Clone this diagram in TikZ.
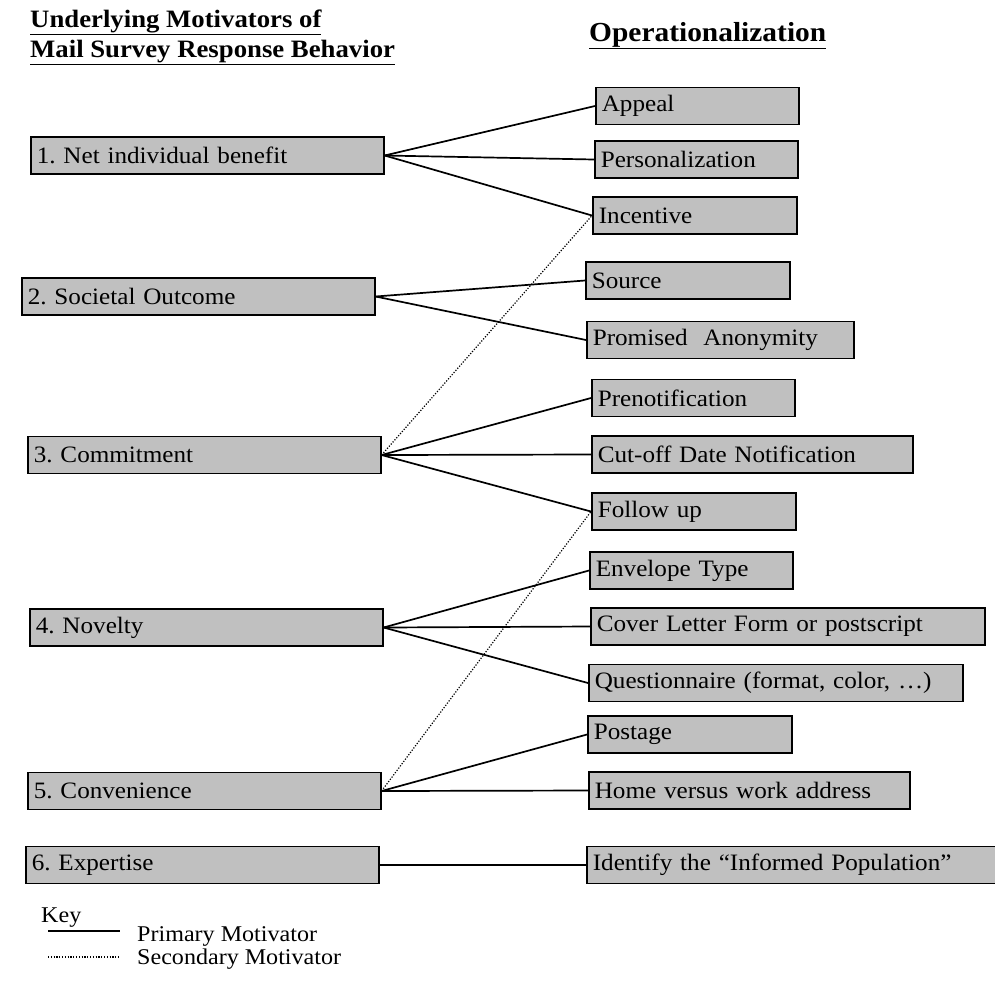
\documentclass[tikz,border=0pt]{standalone}
\usepackage{fontspec}
\setmainfont{Liberation Serif}[FakeStretch=1.07]
\usepackage{xcolor}
\usetikzlibrary{positioning}
\definecolor{boxgray}{HTML}{C0C0C0}
\frenchspacing

\begin{document}
\begin{tikzpicture}[
    x=1pt, y=-1pt,
    font=\fontsize{23.5}{26}\selectfont,
    motive/.style={
        draw,
        fill=boxgray,
        line width=1.6pt,
        minimum height=37pt,
        text width=341pt,
        inner xsep=6pt,
        inner ysep=0pt,
        align=left,
        anchor=west
    },
    oper/.style={
        draw,
        fill=boxgray,
        line width=1.6pt,
        minimum height=37pt,
        text width=#1,
        inner xsep=6pt,
        inner ysep=0pt,
        align=left,
        anchor=west
    },
    heading/.style={
        font=\fontsize{25}{30}\selectfont\bfseries,
        inner sep=0pt,
        anchor=base west
    },
    keytext/.style={
        font=\fontsize{22.5}{26}\selectfont,
        inner sep=0pt,
        anchor=base west
    },
    primary/.style={line width=1.7pt},
    secondary/.style={line width=1.2pt, dash pattern=on 1.2pt off 1.6pt}
]
\useasboundingbox (0,0) rectangle (995,986);
\clip (0,0) rectangle (995,986);

% Headings
\node[heading] (head1) at (30,27) {\underline{Underlying Motivators of}};
\node[heading] (head2) at (30,57) {\underline{Mail Survey Response Behavior}};
\node[heading, font=\fontsize{27.5}{30}\selectfont\bfseries] (head3) at (589,41) {\underline{Operationalization}};

% Underlying motivators
\node[motive] (m1) at (30,155.5) {1. Net individual benefit};
\node[motive] (m2) at (21,296.5) {2. Societal Outcome};
\node[motive] (m3) at (27,455) {3. Commitment};
\node[motive] (m4) at (29,627.5) {4. Novelty};
\node[motive] (m5) at (27,791) {5. Convenience};
\node[motive] (m6) at (25,865) {6. Expertise};

% Operationalization
\node[oper=191pt] (appeal) at (595,106) {Appeal};
\node[oper=191pt] (person) at (594,159.5) {Personalization};
\node[oper=192pt] (incent) at (592,215.5) {Incentive};
\node[oper=192pt] (source) at (585,280.5) {Source};
\node[oper=255pt] (anon) at (586,340) {Promised\ \ Anonymity};
\node[oper=191pt] (prenot) at (591,398) {Prenotification};
\node[oper=309pt] (cutoff) at (591,454.5) {Cut-off Date Notification};
\node[oper=192pt] (follow) at (591,511.5) {Follow up};
\node[oper=191pt] (envel) at (589,570.5) {Envelope Type};
\node[oper=382pt] (cover) at (590,626.5) {Cover Letter Form or postscript};
\node[oper=362pt] (quest) at (588,683) {Questionnaire (format, color, \dots)};
\node[oper=192pt] (postage) at (587,734.5) {Postage};
\node[oper=309pt] (home) at (588,790.5) {Home versus work address};
\node[oper=410pt] (inform) at (586,865) {Identify the ``Informed Population''};

% Primary motivators
\draw[primary] (m1.east) -- (appeal.west);
\draw[primary] (m1.east) -- (person.west);
\draw[primary] (m1.east) -- (incent.west);
\draw[primary] (m2.east) -- (source.west);
\draw[primary] (m2.east) -- (anon.west);
\draw[primary] (m3.east) -- (prenot.west);
\draw[primary] (m3.east) -- (cutoff.west);
\draw[primary] (m3.east) -- (follow.west);
\draw[primary] (m4.east) -- (envel.west);
\draw[primary] (m4.east) -- (cover.west);
\draw[primary] (m4.east) -- (quest.west);
\draw[primary] (m5.east) -- (postage.west);
\draw[primary] (m5.east) -- (home.west);
\draw[primary] (m6.east) -- (inform.west);

% Secondary motivators
\draw[secondary] (m3.east) -- (incent.west);
\draw[secondary] (m5.east) -- (follow.west);

% Key
\node[keytext] (key) at (41,922) {Key};
\coordinate (k1a) at (48,931);
\coordinate (k1b) at (120,931);
\coordinate (k2a) at (48,957);
\coordinate (k2b) at (120,957);
\draw[primary] (k1a) -- (k1b);
\draw[secondary] (k2a) -- (k2b);
\node[keytext] (keyprim) at (137,941) {Primary Motivator};
\node[keytext] (keysec) at (137,964) {Secondary Motivator};

\end{tikzpicture}
\end{document}
